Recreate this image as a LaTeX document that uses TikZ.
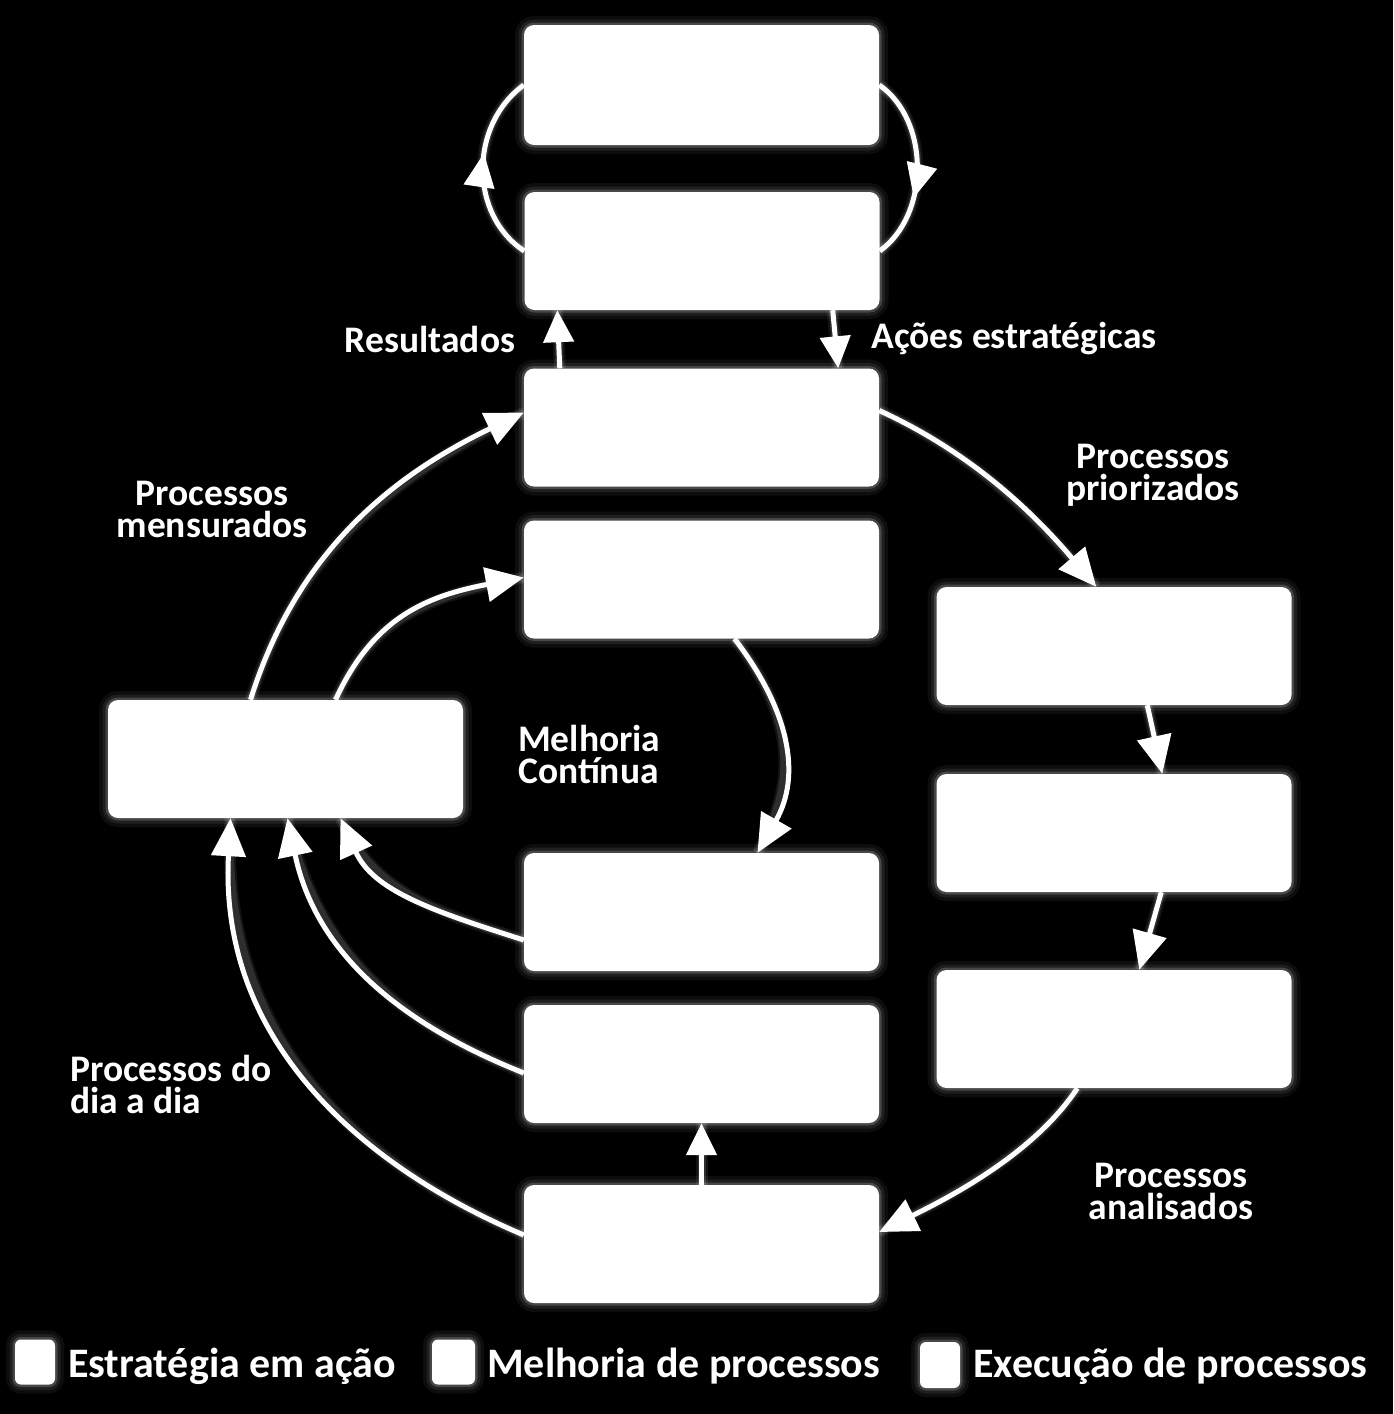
\documentclass[tikz,border=0pt]{standalone}
\usepackage{fontspec}
\setmainfont{Carlito}
\usetikzlibrary{arrows.meta,decorations.markings}
\begin{document}
\begin{tikzpicture}[x=1pt,y=-1pt,
  glow/.style={preaction={draw=white, line width=18pt, opacity=0.05},
               preaction={draw=white, line width=11pt, opacity=0.08},
               preaction={draw=white, line width=5pt, opacity=0.18}},
  box/.style={fill=white, rounded corners=10pt, minimum width=355pt, minimum height=118pt, inner sep=0pt, glow},
  leg/.style={fill=white, rounded corners=6pt, minimum width=40pt, minimum height=45pt, inner sep=0pt, glow},
  lbl/.style={text=white, font=\fontsize{37.5}{32}\selectfont\bfseries, align=center, inner sep=0pt},
  legtxt/.style={text=white, font=\fontsize{42}{44}\selectfont\bfseries, inner sep=0pt},
  aglow/.style={preaction={draw=white, line width=12pt, opacity=0.07, -},
                preaction={draw=white, line width=8pt, opacity=0.12, -}},
  arr/.style={draw=white, line width=5pt, aglow, -{Triangle[length=38pt,width=34pt]}},
  sarr/.style={draw=white, line width=5pt, aglow, -{Triangle[length=32pt,width=30pt]}},
  midarr/.style={draw=white, line width=5pt, aglow, postaction={decorate},
    decoration={markings, mark=at position #1 with {\arrow{Triangle[length=34pt,width=30pt]}}}}
]
\fill[black] (0,0) rectangle (1393,1414);

% boxes
\node[box, minimum height=120pt] (A) at (701.5,85) {};
\node[box] (B) at (702,251) {};
\node[box] (C) at (701.5,427.5) {};
\node[box] (D) at (701.5,579.5) {};
\node[box] (E) at (285.5,759) {};
\node[box] (F) at (1114,646) {};
\node[box] (G) at (1114,833) {};
\node[box] (H) at (1114,1029) {};
\node[box] (I) at (701.5,912) {};
\node[box] (J) at (701.5,1064) {};
\node[box] (K) at (701.5,1244) {};

% connectors
\draw[midarr=0.58] (B.west) .. controls (469,215) and (469,125) .. (A.west);
\draw[midarr=0.66] (A.east) .. controls (930,120) and (930,215) .. (B.east);
\draw[sarr] ([xshift=36pt]C.north west) -- ([xshift=33pt]B.south west);
\draw[sarr] ([xshift=-47pt]B.south east) -- ([xshift=-41pt]C.north east);
\draw[arr] ([yshift=17pt]C.east) .. controls (970,452) and (1032,511) .. ([xshift=160pt]F.north west);
\draw[arr] ([xshift=211pt]F.south west) -- ([xshift=226pt]G.north west);
\draw[arr] ([xshift=225pt]G.south west) -- ([xshift=203pt]H.north west);
\draw[arr] ([xshift=141pt]H.south west) .. controls (1034,1154) and (948,1198) .. ([yshift=12pt]K.east);
\draw[sarr] (K.north) -- (J.south);
\draw[arr] ([yshift=9pt]K.west) .. controls (372,1171) and (218,1048) .. ([xshift=-55pt]E.south);
\draw[arr] ([yshift=-9pt]J.west) .. controls (403,1025) and (316,955) .. ([xshift=2pt]E.south);
\draw[arr] ([yshift=-28pt]I.west) .. controls (429,910) and (373,890) .. ([xshift=55pt]E.south);
\draw[arr] ([xshift=-35pt]E.north) .. controls (294,561) and (381,481) .. ([yshift=15pt]C.west);
\draw[arr] ([xshift=50pt]E.north) .. controls (373,618) and (426,596) .. ([yshift=2pt]D.west);
\draw[arr] ([xshift=33pt]D.south) .. controls (789,710) and (802,775) .. ([xshift=56pt]I.north);

% labels
\node[lbl] (l1) at (430,339) {Resultados};
\node[lbl] (l2) at (1014,339) {Ações estratégicas};
\node[lbl] (l3) at (1153,475) {Processos\\priorizados};
\node[lbl] (l4) at (212,509) {Processos\\mensurados};
\node[lbl, align=left, anchor=west] (l5) at (518,754) {Melhoria\\Contínua};
\node[lbl, align=left, anchor=west] (l6) at (70,1084) {Processos do\\dia a dia};
\node[lbl] (l7) at (1171,1191) {Processos\\analisados};

% legend
\node[leg] (L1) at (35,1362) {};
\node[leg, minimum width=43pt] (L2) at (453.5,1362) {};
\node[leg, minimum height=46pt] (L3) at (940,1365) {};
\node[legtxt, anchor=base west] (T1) at (68,1377) {Estratégia em ação};
\node[legtxt, anchor=base west] (T2) at (487,1377) {Melhoria de processos};
\node[legtxt, anchor=base west] (T3) at (973,1377) {Execução de processos};
\end{tikzpicture}
\end{document}
